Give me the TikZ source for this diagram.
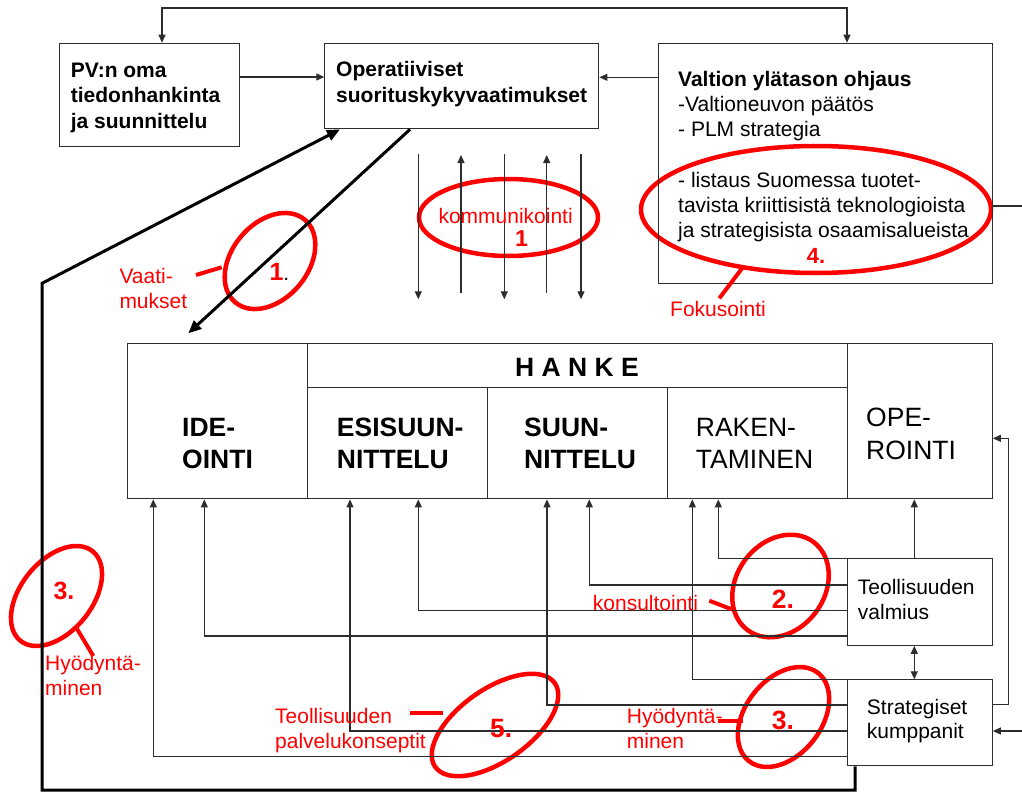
\documentclass[tikz,border=0pt]{standalone}
\usepackage{fontspec}
\setmainfont{Liberation Sans}
\usetikzlibrary{arrows.meta}
\definecolor{redpen}{RGB}{255,0,0}
\definecolor{ink}{RGB}{45,45,45}
% left-aligned lines whose first baseline is the node's base
\newcommand\rows[1]{\begin{tabular}[t]{@{}l@{}}#1\end{tabular}}

\begin{document}
\begin{tikzpicture}[x=1pt,y=-1pt,
  box/.style={draw=ink,line width=1.1pt,inner sep=0,anchor=north west},
  conn/.style={draw=ink,line width=1.1pt},
  arr/.style={-{Triangle[length=8pt,width=7pt]}},
  arrboth/.style={{Triangle[length=8pt,width=7pt]}-{Triangle[length=8pt,width=7pt]}},
  heavy/.style={draw=black,line width=3pt,-{Triangle[length=13pt,width=11pt]}},
  pen/.style={draw=redpen,line width=4.5pt},
  txt/.style={inner sep=0,anchor=base west,font=\fontsize{21}{25.3}\selectfont},
  bigtxt/.style={inner sep=0,anchor=base west,font=\fontsize{26.5}{32.4}\selectfont},
  redtxt/.style={inner sep=0,anchor=base west,text=redpen,font=\fontsize{21}{25}\selectfont},
  rednum/.style={inner sep=0,anchor=base west,text=redpen,font=\bfseries\fontsize{26.5}{30}\selectfont}]
\useasboundingbox (0,0) rectangle (1022,792);

% red highlight ellipses (under the black lines)
\draw[pen,rotate around={50:(270,261)}] (270,261) ellipse [x radius=54pt,y radius=38pt];
\draw[pen] (508.5,217.5) ellipse [x radius=89.5pt,y radius=38.5pt];
\draw[pen] (816,209.5) ellipse [x radius=175pt,y radius=63.5pt];
\draw[pen,rotate around={53:(780.5,586)}] (780.5,586) ellipse [x radius=55pt,y radius=44pt];
\draw[pen,rotate around={52:(783.5,717)}] (783.5,717) ellipse [x radius=56pt,y radius=38pt];
\draw[pen,rotate around={51:(56.5,596)}] (56.5,596) ellipse [x radius=57.5pt,y radius=35.6pt];
\draw[pen,rotate around={35:(495,725)}] (495,725) ellipse [x radius=73pt,y radius=36pt];

% upper boxes
\node[box,minimum width=179.7pt,minimum height=103.3pt] (pv) at (59,42.7) {};
\node[box,minimum width=274pt,minimum height=85.6pt] (op) at (324.3,42.7) {};
\node[box,minimum width=334pt,minimum height=240.6pt] (val) at (657.7,42.7) {};

\node[txt,font=\bfseries\fontsize{21}{25.5}\selectfont] (pvt) at (70.7,77.3)
  {\rows{PV:n oma\\tiedonhankinta\\ja suunnittelu}};
\node[txt,font=\bfseries\fontsize{21}{26}\selectfont] (opt) at (336,76.7)
  {\rows{Operatiiviset\\suorituskykyvaatimukset}};
\node[txt,font=\fontsize{21}{25.1}\selectfont] (valt) at (678,86.7)
  {\rows{\textbf{Valtion ylätason ohjaus}\\-Valtioneuvon päätös\\- PLM strategia\\ \\- listaus Suomessa tuotet-\\tavista kriittisistä teknologioista\\ja strategisista osaamisalueista}};

% project phases
\node[box,minimum width=180pt,minimum height=155pt] (ide) at (127.3,343.3) {};
\node[box,minimum width=539.4pt,minimum height=43.4pt] (strip) at (307.3,343.3) {};
\node[box,minimum width=179.4pt,minimum height=111.6pt] (esi) at (307.3,386.7) {};
\node[box,minimum width=180pt,minimum height=111.6pt] (suun) at (486.7,386.7) {};
\node[box,minimum width=180pt,minimum height=111.6pt] (rak) at (666.7,386.7) {};
\node[box,minimum width=145pt,minimum height=155pt] (ope) at (846.7,343.3) {};

\node[bigtxt,font=\bfseries\fontsize{26.5}{32}\selectfont] (hanke) at (515,376) {H A N K E};
\node[bigtxt,font=\bfseries\fontsize{26.5}{32.4}\selectfont] (idet) at (182,436) {\rows{IDE-\\OINTI}};
\node[bigtxt,font=\bfseries\fontsize{26.5}{32.4}\selectfont] (esit) at (336.7,436) {\rows{ESISUUN-\\NITTELU}};
\node[bigtxt,font=\bfseries\fontsize{26.5}{32.4}\selectfont] (suunt) at (524,436) {\rows{SUUN-\\NITTELU}};
\node[bigtxt] (rakt) at (695.7,436) {\rows{RAKEN-\\TAMINEN}};
\node[bigtxt,font=\fontsize{26.5}{32.6}\selectfont] (opet) at (866,426.7) {\rows{OPE-\\ROINTI}};

% industry boxes
\node[box,minimum width=145pt,minimum height=86.4pt] (tv) at (846.7,558.3) {};
\node[box,minimum width=145pt,minimum height=86pt] (sk) at (846.7,679.3) {};
\node[txt,font=\fontsize{21}{24.7}\selectfont] (tvt) at (857.7,594.3) {\rows{Teollisuuden\\valmius}};
\node[txt,font=\fontsize{21}{24.5}\selectfont] (skt) at (866.7,714) {\rows{Strategiset\\kumppanit}};

% connectors between the upper boxes
\draw[conn,arrboth] (162,0 |- pv.north) |- (500,8) -| (847,0 |- val.north);
\draw[conn,arr] (pv.east |- 0,77) -- (op.west |- 0,77);
\draw[conn,arr] (val.west |- 0,77.3) -- (op.east |- 0,77.3);
\coordinate (offR) at (1022,206);
\draw[conn] (val.east |- offR) -- (offR);
\coordinate (offS) at (1022,731);
\draw[conn,arr] (offS) -- (sk.east |- offS);

% communication arrows
\foreach \x in {418.3,504.3,581} \draw[conn,arr] (\x,154) -- (\x,299.3);
\foreach \x in {461,546.7} \draw[conn,arr] (\x,293) -- (\x,155);

% requirement flows
\draw[heavy] (855,0 |- sk.south) -- (855,790) -- (42,790) -- (42,283.3) -- (340,0 |- op.south);
\coordinate (reqTip) at (188.3,333.3);
\draw[heavy] (410,0 |- op.south) -- (reqTip);

% industry readiness feeds
\draw[conn,arr] (tv.north west) -| (718.3,0 |- rak.south);
\draw[conn,arr] (tv.west |- 0,585) -| (589.3,0 |- suun.south);
\draw[conn,arr] (tv.west |- 0,610.7) -| (418.3,0 |- esi.south);
\draw[conn,arr] (tv.west |- 0,636) -| (204.3,0 |- ide.south);
\draw[conn,arr] (914.3,0 |- tv.north) -- (914.3,0 |- ope.south);
\draw[conn,arrboth] (914.3,0 |- tv.south) -- (914.3,0 |- sk.north);

% strategic partner feeds
\draw[conn,arr] (sk.north west) -| (692.3,0 |- rak.south);
\draw[conn,arr] (sk.west |- 0,705) -| (547,0 |- suun.south);
\draw[conn,arr] (sk.west |- 0,731) -| (350,0 |- esi.south);
\draw[conn,arr] (sk.west |- 0,756.7) -| (153.3,0 |- ide.south);
\draw[conn,arr] (sk.east |- 0,704.7) -| (1008.7,438.3) -- (ope.east |- 0,438.3);

% red pointer strokes
\draw[pen,line width=4pt] (196,275) -- (221.7,267.3);
\draw[pen,line width=4pt] (76.7,628.3) -- (93.3,656);
\draw[pen,line width=4pt] (410,713.3) -- (443,713.3);
\draw[pen,line width=4pt] (709.3,600.7) -- (731.7,609.3);
\draw[pen,line width=4pt] (718.3,721) -- (743.3,721);
\draw[pen,line width=4pt] (743.3,266.7) -- (719.3,298.3);

% red labels
\node[redtxt] (vaati) at (119.3,283.3) {\rows{Vaati-\\mukset}};
\node[redtxt,font=\fontsize{21}{24.3}\selectfont] (hyo1) at (45,670.7) {\rows{Hyödyntä-\\minen}};
\node[redtxt] (palv) at (275,723.3) {\rows{Teollisuuden\\palvelukonseptit}};
\node[redtxt] (hyo2) at (626.7,723.3) {\rows{Hyödyntä-\\minen}};
\node[redtxt] (kons) at (592.7,610.7) {konsultointi};
\node[redtxt] (komm) at (438.3,223.3) {kommunikointi};
\node[redtxt] (foku) at (670,316.7) {Fokusointi};
\node[rednum,font=\bfseries\fontsize{23}{26}\selectfont] (k1) at (515,246.7) {1};
\node[rednum,font=\bfseries\fontsize{22}{26}\selectfont] (n4) at (806.7,263.3) {4.};
\node[rednum,font=\bfseries\fontsize{25}{30}\selectfont] (n1) at (269.3,280.7)
  {1\textcolor{black}{\mdseries\fontsize{21}{25}\selectfont .}};
\node[rednum] (n2) at (771.7,608.3) {2.};
\node[rednum] (n3b) at (771.7,729) {3.};
\node[rednum,font=\bfseries\fontsize{25}{30}\selectfont] (n3a) at (53.3,599.3) {3.};
\node[rednum] (n5) at (490,737.3) {5.};
\end{tikzpicture}
\end{document}
